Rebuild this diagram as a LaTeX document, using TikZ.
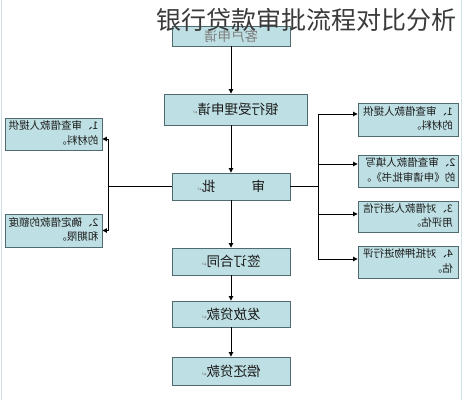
\documentclass[tikz,border=0pt]{standalone}
\usepackage{fontspec}
\usepackage{graphicx}
\usetikzlibrary{arrows.meta,positioning}
\newfontfamily\cjk{Noto Sans CJK SC}
\newfontfamily\symb{DejaVu Sans}
\definecolor{boxfill}{HTML}{BEDFE3}
\definecolor{boxline}{HTML}{4F6B70}
\definecolor{ink}{HTML}{1A1A1A}
\definecolor{titleink}{HTML}{3A3A3A}
\definecolor{edge}{HTML}{CFDFEA}
\tikzset{
  stage/.style={draw=boxline, fill=boxfill, line width=0.9pt, minimum width=118pt, minimum height=27pt, inner sep=0pt, font=\cjk\fontsize{13.5}{15}\selectfont, text=ink},
  note/.style={draw=boxline, fill=boxfill, line width=0.9pt, minimum width=99pt, minimum height=32pt, inner sep=0pt, font=\cjk\fontsize{10.5}{14.5}\selectfont, text=ink},
  link/.style={draw=black, line width=0.9pt},
  arr/.style={link, -{Triangle[length=4.5pt,width=4.5pt]}},
  title/.style={font=\cjk\fontsize{25}{28}\selectfont, text=titleink, inner sep=0pt},
}
\newcommand{\pmark}{{\symb\fontsize{6}{6}\selectfont\color{gray}↵}}
\newcommand{\mline}[1]{\reflectbox{#1}}
\newcommand{\mtwo}[2]{\reflectbox{\begin{tabular}{@{}l@{}}#1\\#2\end{tabular}}}

\begin{document}
\begin{tikzpicture}[x=1pt,y=-1pt]
  \useasboundingbox (0,0) rectangle (463,400);
  \draw[edge, line width=1pt] (1.5,0) -- (1.5,400);
  \draw[edge, line width=1pt] (461,0) -- (461,400);
  % main column
  \node[stage, minimum height=20pt, text=gray] (apply) at (231,36) {\mline{客户申请}};
  \node[stage, minimum width=143pt, minimum height=31pt] (accept) at (235.5,109.5) {\mline{银行受理申请\pmark}};
  \node[stage] (audit) at (231,186.5) {\mline{审\hspace{2.7em}批\pmark}};
  \node[stage] (sign) at (231,261.5) {\mline{签订合同\pmark}};
  \node[stage, minimum height=26pt] (lend) at (231,314) {\mline{发放贷款\pmark}};
  \node[stage, minimum height=28pt] (repay) at (231,371) {\mline{偿还贷款\pmark}};
  \node[title] (head) at (306.5,20) {银行贷款审批流程对比分析};
  \draw[arr] (apply.south) -- (apply.south |- accept.north);
  \draw[arr] (apply.south |- accept.south) -- (audit.north);
  \draw[arr] (audit.south) -- (sign.north);
  \draw[arr] (sign.south) -- (lend.north);
  \draw[arr] (lend.south) -- (repay.north);
  % left notes
  \node[note, minimum width=97pt] (L1) at (53.5,134) {\mtwo{1、审查借款人提供}{的材料。}};
  \node[note, minimum width=97pt, minimum height=33pt] (L2) at (53.5,230.5) {\mtwo{2、确定借款的额度}{和期限。}};
  % right notes
  \node[note, minimum width=100pt, minimum height=33pt] (R1) at (408,119.5) {\mtwo{1、审查借款人提供}{的材料。}};
  \node[note, minimum width=100pt] (R2) at (408,171) {\mtwo{2、审查借款人填写}{的《申请审批书》。}};
  \node[note, minimum width=100pt, minimum height=31pt] (R3) at (408,216.5) {\mtwo{3、对借款人进行信}{用评估。}};
  \node[note, minimum width=100pt] (R4) at (408,262) {\mtwo{4、对抵押物进行评}{估。}};
  % branches
  \coordinate (lbus) at (108,0);
  \coordinate (rbus) at (318,0);
  \coordinate (l1in) at ([yshift=-5pt]L1.east);
  \coordinate (r1in) at ([yshift=5.5pt]R1.west);
  \coordinate (r2in) at ([yshift=7pt]R2.west);
  \coordinate (r3in) at ([yshift=2.5pt]R3.west);
  \coordinate (r4in) at ([yshift=3pt]R4.west);
  \draw[link] (audit.west) -- (audit.west -| lbus);
  \draw[link] (l1in -| lbus) -- (L2.east -| lbus);
  \draw[arr] (l1in -| lbus) -- (l1in);
  \draw[arr] (L2.east -| lbus) -- (L2.east);
  \draw[link] (audit.east) -- (audit.east -| rbus);
  \draw[link] (r1in -| rbus) -- (r4in -| rbus);
  \foreach \t in {r1in,r2in,r3in,r4in}
    \draw[arr] (\t -| rbus) -- (\t);
\end{tikzpicture}
\end{document}
